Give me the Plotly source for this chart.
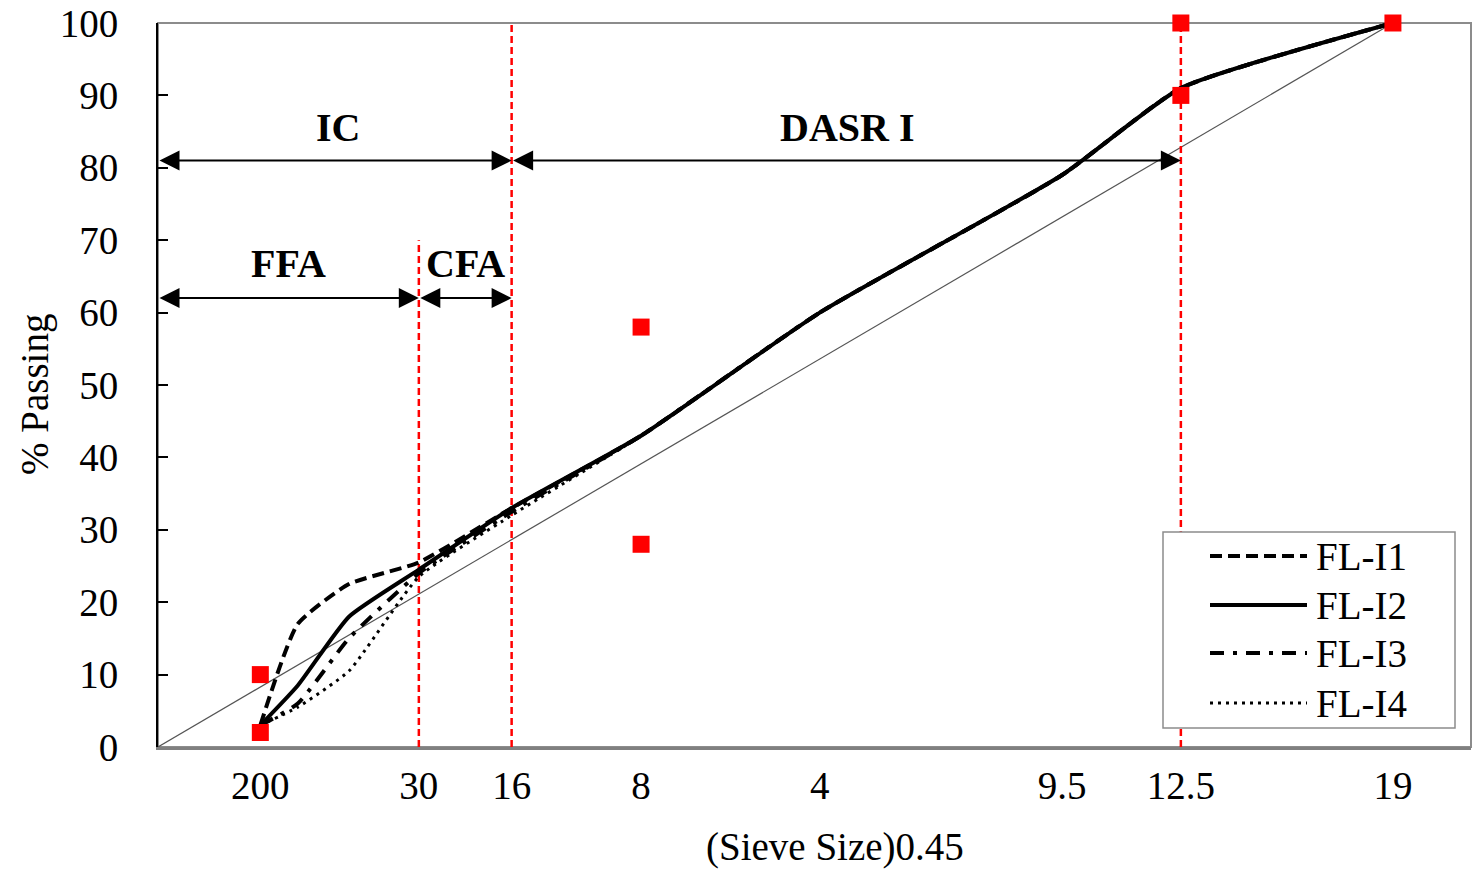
import plotly.graph_objects as go

# Sieve sizes (mm) and their labels on the 0.45-power axis
sieve_mm = [0.075, 0.15, 0.3, 0.6, 1.18, 2.36, 4.75, 9.5, 12.5, 19.0]
tick_mm = [0.075, 0.6, 1.18, 2.36, 4.75, 9.5, 12.5, 19.0]
tick_text = ["200", "30", "16", "8", "4", "9.5", "12.5", "19"]

# % passing for each gradation
fl_i1 = [3, 17, 22.5, 25.5, 33, 43, 60, 79, 91, 100]
fl_i2 = [3, 8.5, 18, 24.5, 33, 43, 60, 79, 91, 100]
fl_i3 = [3, 6, 15, 24, 32.5, 43, 60, 79, 91, 100]
fl_i4 = [3, 5.5, 10.5, 23.5, 32, 43, 60, 79, 91, 100]

# Superpave control points (sieve mm, % passing)
ctrl_mm = [0.075, 0.075, 2.36, 2.36, 12.5, 12.5, 19.0]
ctrl_pct = [2, 10, 28, 58, 90, 100, 100]

# Maximum density line end points
mdl_mm = [0.0, 19.0]
mdl_pct = [0, 100]

# Region boundaries (sieve mm) and the height of each dashed marker
bound_mm = [0.6, 1.18, 12.5]
bound_top = [70, 100, 100]

P = 0.45


def xp(v):
    return v ** P


FONT = "Liberation Serif, Times New Roman, serif"
W, H = 1480, 872
L, R, T, B = 158, 9, 23, 125

fig = go.Figure()

styles = [
    ("FL-I1", fl_i1, "12px,6px", 4),
    ("FL-I2", fl_i2, "solid", 4),
    ("FL-I3", fl_i3, "14px,9px,4px,9px", 4),
    ("FL-I4", fl_i4, "3px,5px", 3),
]

# maximum density line
fig.add_trace(go.Scatter(
    x=[xp(v) for v in mdl_mm], y=mdl_pct, mode="lines",
    line=dict(color="#555555", width=1.2), showlegend=False, hoverinfo="skip"))

# dashed region boundaries
for b, top in zip(bound_mm, bound_top):
    fig.add_trace(go.Scatter(
        x=[xp(b), xp(b)], y=[0, top], mode="lines",
        line=dict(color="#ff0000", width=2.5, dash="7px,4px"),
        showlegend=False, hoverinfo="skip", cliponaxis=False))

for name, vals, dash, w in styles:
    fig.add_trace(go.Scatter(
        x=[xp(v) for v in sieve_mm], y=vals, mode="lines", name=name,
        line=dict(color="black", width=w, dash=dash, shape="spline", smoothing=0.5),
        showlegend=False))

fig.add_trace(go.Scatter(
    x=[xp(v) for v in ctrl_mm], y=ctrl_pct, mode="markers",
    marker=dict(symbol="square", size=17, color="#ff0000"),
    showlegend=False, cliponaxis=False))

# double-headed region arrows
arrow_common = dict(xref="x", yref="y", axref="x", ayref="y", text="",
                    showarrow=True, arrowside="end+start", arrowhead=2,
                    startarrowhead=2, arrowsize=2, startarrowsize=2,
                    arrowwidth=2, arrowcolor="black", standoff=0, startstandoff=0)
arrows = [
    (0.0, xp(1.18), 81),
    (xp(1.18), xp(12.5), 81),
    (0.0, xp(0.6), 62),
    (xp(0.6), xp(1.18), 62),
]
for x0, x1, y in arrows:
    fig.add_annotation(x=x1, y=y, ax=x0, ay=y, **arrow_common)

region_labels = [("IC", 0.548, 85.5), ("DASR I", 2.10, 85.5),
                 ("FFA", 0.399, 66.8), ("CFA", 0.938, 66.8)]
for txt, x, y in region_labels:
    fig.add_annotation(x=x, y=y, text="<b>%s</b>" % txt, showarrow=False,
                       xanchor="center", yanchor="middle",
                       font=dict(family=FONT, size=40, color="black"))

pw = W - L - R
ph = H - T - B


def px_x(p):
    return (p - L) / pw


def px_y(p):
    return (H - B - p) / ph


# axis titles
fig.add_annotation(text="(Sieve Size)0.45", xref="paper", yref="paper",
                   x=px_x(835), y=px_y(847), showarrow=False,
                   xanchor="center", yanchor="middle",
                   font=dict(family=FONT, size=39, color="black"))
fig.add_annotation(text="% Passing", xref="paper", yref="paper",
                   x=px_x(35), y=px_y(395), showarrow=False, textangle=-90,
                   xanchor="center", yanchor="middle",
                   font=dict(family=FONT, size=39, color="black"))

# legend box with long line samples
shapes = [dict(type="rect", xref="paper", yref="paper", x0=0, x1=1, y0=0, y1=1,
               line=dict(color="#8c8c8c", width=2), layer="below"),
          dict(type="rect", xref="paper", yref="paper",
               x0=px_x(1163), x1=px_x(1455), y0=px_y(728), y1=px_y(532),
               line=dict(color="#8c8c8c", width=1.5), fillcolor="white",
               layer="above")]
leg_rows = [556, 605, 653, 703]
for (name, vals, dash, w), yy in zip(styles, leg_rows):
    shapes.append(dict(type="line", xref="paper", yref="paper",
                       x0=px_x(1210), x1=px_x(1307), y0=px_y(yy), y1=px_y(yy),
                       line=dict(color="black", width=w, dash=dash), layer="above"))
    fig.add_annotation(text=name, xref="paper", yref="paper",
                       x=px_x(1314), y=px_y(yy), xanchor="left", yanchor="middle",
                       showarrow=False,
                       font=dict(family=FONT, size=39, color="black"))

fig.update_layout(
    width=W, height=H,
    margin=dict(l=L, r=R, t=T, b=B, autoexpand=False),
    paper_bgcolor="white", plot_bgcolor="white",
    showlegend=False,
    shapes=shapes,
    xaxis=dict(range=[0, 4], tickvals=[xp(v) for v in tick_mm], ticktext=tick_text,
               showgrid=False, zeroline=False, showline=True, linecolor="#808080",
               linewidth=3, ticks="", ticklabelstandoff=2, automargin=False,
               tickfont=dict(family=FONT, size=39, color="black")),
    yaxis=dict(range=[0, 100], dtick=10, showgrid=False, zeroline=False,
               showline=True, linecolor="black", linewidth=2,
               ticks="inside", ticklen=10, tickwidth=1.5, tickcolor="black",
               ticklabelstandoff=30, automargin=False,
               tickfont=dict(family=FONT, size=39, color="black")),
)

fig.write_html("out.html")
